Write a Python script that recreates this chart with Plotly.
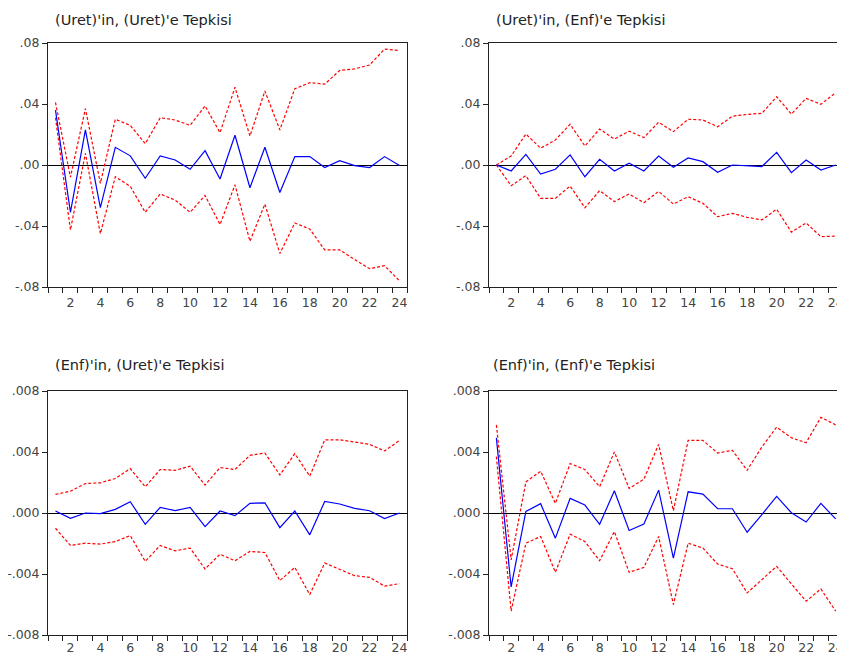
import plotly.graph_objects as go

periods = list(range(1, 25))

# Panel 1: (Uret)'in, (Uret)'e Tepkisi
uu_resp = [0.036, -0.031, 0.023, -0.028, 0.0116, 0.006, -0.0087, 0.006, 0.0033, -0.0028, 0.0094, -0.0092,
           0.0195, -0.0149, 0.0116, -0.018, 0.0055, 0.0055, -0.0017, 0.0028, -0.0004, -0.0017, 0.0055, -0.0004]
uu_up = [0.041, -0.008, 0.037, -0.012, 0.030, 0.026, 0.014, 0.031, 0.0295, 0.026, 0.0387, 0.0212,
         0.051, 0.019, 0.0485, 0.023, 0.050, 0.054, 0.053, 0.062, 0.063, 0.0656, 0.076, 0.075]
uu_lo = [0.031, -0.0426, 0.0077, -0.045, -0.0077, -0.014, -0.031, -0.019, -0.023, -0.031, -0.020, -0.039,
         -0.013, -0.050, -0.0256, -0.058, -0.038, -0.042, -0.0557, -0.0557, -0.062, -0.068, -0.066, -0.076]

# Panel 2: (Uret)'in, (Enf)'e Tepkisi
ue_resp = [0.0, -0.0039, 0.007, -0.0059, -0.0028, 0.0066, -0.0077, 0.0037, -0.0039, 0.0012, -0.0039, 0.0059,
           -0.0015, 0.0046, 0.0022, -0.0048, 0.0, -0.0004, -0.001, 0.0083, -0.005, 0.0033, -0.0033, 0.0]
ue_up = [0.0, 0.0059, 0.0203, 0.011, 0.0164, 0.0267, 0.0125, 0.0236, 0.017, 0.0222, 0.018, 0.028,
         0.0219, 0.030, 0.0295, 0.0251, 0.032, 0.0332, 0.0339, 0.0448, 0.0334, 0.0437, 0.0398, 0.0474]
ue_lo = [0.0, -0.0136, -0.007, -0.0219, -0.0219, -0.0138, -0.028, -0.0168, -0.024, -0.019, -0.0247, -0.0173,
         -0.0256, -0.0208, -0.0251, -0.0339, -0.0317, -0.0343, -0.036, -0.029, -0.044, -0.038, -0.047, -0.0466]

# Panel 3: (Enf)'in, (Uret)'e Tepkisi
eu_resp = [0.00013, -0.00035, 0.0, -0.00004, 0.00024, 0.00074, -0.00074, 0.00037, 0.00015, 0.00037, -0.00089, 0.00013,
           -0.00017, 0.00063, 0.00067, -0.00096, 0.00013, -0.00143, 0.00076, 0.00059, 0.0003, 0.00015, -0.00037, 0.0]
eu_up = [0.00122, 0.00143, 0.00193, 0.00198, 0.00226, 0.00291, 0.00172, 0.00285, 0.0028, 0.00307, 0.00183, 0.00298,
         0.00285, 0.00378, 0.00393, 0.0025, 0.00389, 0.00241, 0.0048, 0.0048, 0.00465, 0.0045, 0.00407, 0.00476]
eu_lo = [-0.001, -0.00213, -0.00198, -0.00204, -0.00187, -0.00148, -0.00317, -0.00213, -0.00248, -0.0023, -0.00367, -0.0027,
         -0.00313, -0.00252, -0.00259, -0.00443, -0.00357, -0.00535, -0.00328, -0.00367, -0.00411, -0.00422, -0.0048, -0.00463]

# Panel 4: (Enf)'in, (Enf)'e Tepkisi
ee_resp = [0.00493, -0.00485, 0.0001, 0.00061, -0.00165, 0.00096, 0.00052, -0.00074, 0.00146, -0.00115, -0.00072, 0.0015,
           -0.00296, 0.00139, 0.00124, 0.00028, 0.00028, -0.00126, -0.0001, 0.00109, 0.00002, -0.00059, 0.00063, -0.00039]
ee_up = [0.00578, -0.00307, 0.00204, 0.00274, 0.00063, 0.00324, 0.00285, 0.00172, 0.004, 0.00161, 0.00222, 0.0045,
         0.00015, 0.00476, 0.00476, 0.00393, 0.00411, 0.0028, 0.00433, 0.00563, 0.00493, 0.00461, 0.00628, 0.00578]
ee_lo = [0.0037, -0.00643, -0.00198, -0.00154, -0.00389, -0.00139, -0.00187, -0.00313, -0.00122, -0.00389, -0.00357, -0.00154,
         -0.006, -0.00198, -0.0023, -0.00335, -0.00365, -0.00524, -0.00437, -0.0035, -0.00465, -0.00578, -0.00498, -0.00643]

titles = ["(Uret)'in, (Uret)'e Tepkisi", "(Uret)'in, (Enf)'e Tepkisi",
          "(Enf)'in, (Uret)'e Tepkisi", "(Enf)'in, (Enf)'e Tepkisi"]

x_labels = [str(v) for v in range(2, 25, 2)]
y_top_vals = [-0.08, -0.04, 0.0, 0.04, 0.08]
y_top_text = ["-.08", "-.04", ".00", ".04", ".08"]
y_bot_vals = [-0.008, -0.004, 0.0, 0.004, 0.008]
y_bot_text = ["-.008", "-.004", ".000", ".004", ".008"]

OFF = 8  # page body margin
W, H = 845 - OFF, 655 - OFF
panels = [
    (uu_resp, uu_up, uu_lo, (48, 407), (43, 287), y_top_vals, y_top_text, (53, 20), 4),
    (ue_resp, ue_up, ue_lo, (489, 843), (43, 287), y_top_vals, y_top_text, (494, 20), 4),
    (eu_resp, eu_up, eu_lo, (48, 407), (391, 635), y_bot_vals, y_bot_text, (53, 365), 1),
    (ee_resp, ee_up, ee_lo, (489, 843), (391, 635), y_bot_vals, y_bot_text, (491, 365), 1),
]

FONT = "DejaVu Sans, Verdana, sans-serif"
fig = go.Figure()
layout = dict(width=W, height=H, margin=dict(l=0, r=0, t=0, b=0, pad=0, autoexpand=False),
              paper_bgcolor="white", plot_bgcolor="white", showlegend=False,
              font=dict(family=FONT, size=12, color="#333"))
annotations = []
red_dash = "3px,2px"
for i, (resp, up, lo, xpx, ypx, yv, yt, tpos, standoff) in enumerate(panels):
    n = "" if i == 0 else str(i + 1)
    xa, ya = "x" + n, "y" + n
    for series, color, dash in ((up, "#FF0000", red_dash), (lo, "#FF0000", red_dash), (resp, "#0000FF", "solid")):
        fig.add_trace(go.Scatter(x=periods, y=series, mode="lines", xaxis=xa, yaxis=ya,
                                 line=dict(color=color, width=1.2, dash=dash), hoverinfo="skip"))
    x0, x1 = (xpx[0] - OFF) / W, min((xpx[1] - OFF) / W, 1.0)
    y0, y1 = 1 - (ypx[1] - OFF) / H, 1 - (ypx[0] - OFF) / H
    layout["xaxis" + n] = dict(
        domain=[x0, x1], anchor=ya, range=[0.5, 24.5],
        tickmode="array", tickvals=list(range(2, 25, 2)), ticktext=x_labels, ticks="",
        ticklabelstandoff=standoff,
        minor=dict(tickmode="array", tickvals=[v + 0.5 for v in range(0, 25)], ticks="outside",
                   ticklen=5, tickcolor="#222", tickwidth=1, showgrid=False),
        showgrid=False, zeroline=False, showline=True, linecolor="#222", linewidth=1, mirror=True,
        tickfont=dict(size=12.5, color="#444", family=FONT), fixedrange=True, automargin=False)
    layout["yaxis" + n] = dict(
        domain=[y0, y1], anchor=xa, range=[yv[0], yv[-1]],
        tickmode="array", tickvals=yv, ticktext=yt, ticks="outside", ticklen=5, tickcolor="#222",
        showgrid=False, zeroline=True, zerolinecolor="#000", zerolinewidth=1,
        showline=True, linecolor="#222", linewidth=1, mirror=True,
        tickfont=dict(size=12.5, color="#444", family=FONT), fixedrange=True, automargin=False)
    annotations.append(dict(text=titles[i], xref="paper", yref="paper",
                            x=(tpos[0] - OFF) / W, y=1 - (tpos[1] - OFF) / H,
                            xanchor="left", yanchor="middle", showarrow=False,
                            font=dict(size=14.5, color="#222", family=FONT)))
layout["annotations"] = annotations
fig.update_layout(**layout)
fig.write_html("out.html")
